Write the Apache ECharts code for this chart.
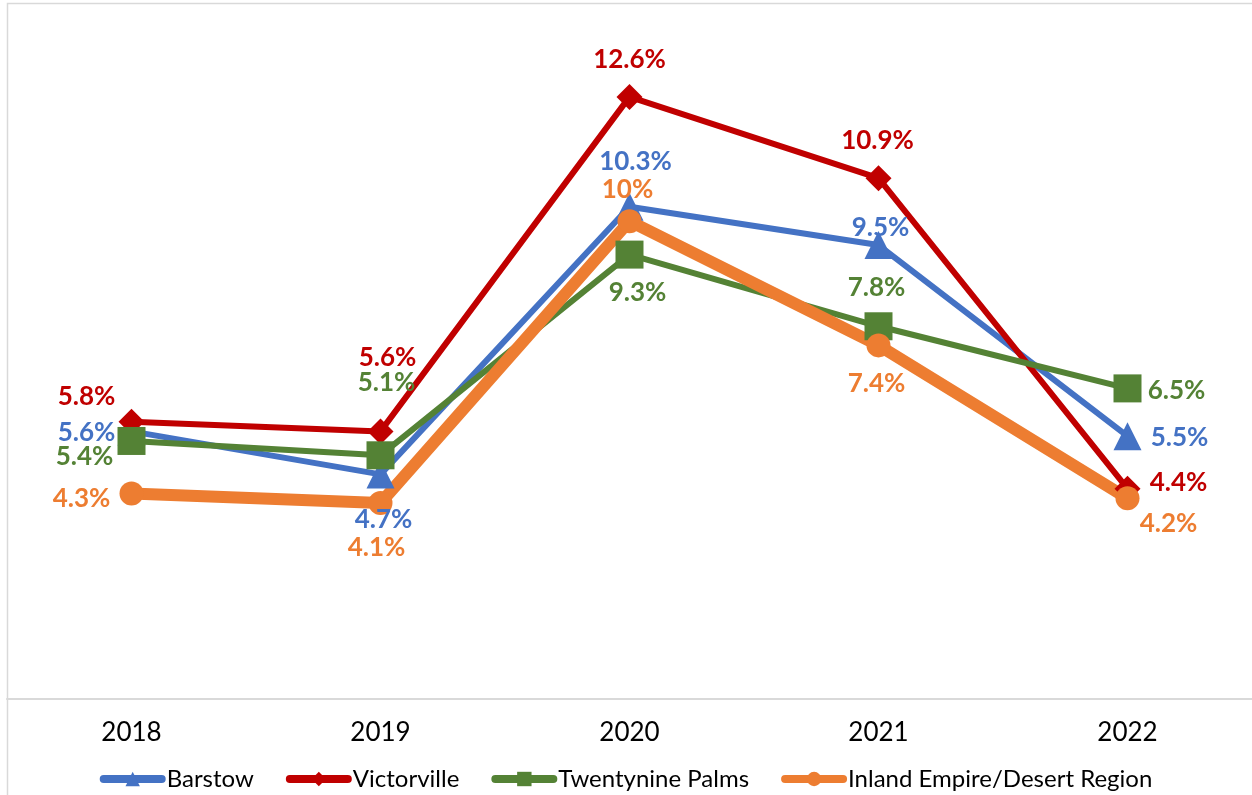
<!DOCTYPE html>
<html>
<head>
<meta charset="utf-8">
<style>
  html, body { margin: 0; padding: 0; background: #fff; }
  #chart { width: 1252px; height: 795px; }
</style>
<script src="https://cdn.jsdelivr.net/npm/echarts@6/dist/echarts.min.js"></script>
</head>
<body>
<div id="chart"></div>
<script>
const years = ['2018', '2019', '2020', '2021', '2022']
const barstow = [5.6, 4.7, 10.3, 9.5, 5.5]
const victorville = [5.8, 5.6, 12.6, 10.9, 4.4]
const twentynine = [5.4, 5.1, 9.3, 7.8, 6.5]
const inlandEmpire = [4.3, 4.1, 10.0, 7.4, 4.2]

// where each value label sits, relative to its point (x, y in px)
const barstowLabelOffsets = [[-45, 1], [3, 45], [6, -45], [2, -17], [52, 1]]
const victorvilleLabelOffsets = [[-45, -25], [7, -74], [0, -37], [-1, -38], [51, -6]]
const twentynineLabelOffsets = [[-47, 16], [6, -73], [8, 38], [-2, -39], [49, 2]]
const inlandLabelOffsets = [[-50, 5], [-4, 45], [-2, -32], [-2, 38], [41, 25]]

const font = 'Lato, "Noto Sans", sans-serif'

const colors = {
  barstow: '#4472C4',
  victorville: '#C00000',
  twentynine: '#548235',
  inland: '#ED7D31',
}

const makeSeries = (name, values, offsets, color, symbol, symbolSize, width) => ({
  name,
  type: 'line',
  data: values.map((v, i) => ({
    value: v,
    label: { offset: offsets[i] },
  })),
  symbol,
  symbolSize,
  showAllSymbol: true,
  itemStyle: { color },
  lineStyle: { color, width },
  label: {
    show: true,
    position: 'inside',
    align: 'center',
    verticalAlign: 'middle',
    color,
    fontFamily: font,
    fontWeight: 'bold',
    fontSize: 26,
    formatter: (p) => p.value + '%',
  },
  emphasis: { disabled: true },
  animation: false,
})

const legendItem = (name, color) => ({
  name,
  itemStyle: { color },
  lineStyle: { color, width: 8, cap: 'round' },
})

const chart = echarts.init(document.getElementById('chart'))

chart.setOption({
  animation: false,
  graphic: [
    {
      type: 'rect',
      shape: { x: 7.5, y: 3.5, width: 1260, height: 820 },
      style: { fill: 'none', stroke: '#d9d9d9', lineWidth: 1.5 },
      silent: true,
    },
  ],
  grid: {
    left: 7,
    width: 1249,
    top: 30,
    bottom: 96,
  },
  legend: {
    left: 'center',
    top: 762,
    itemWidth: 58,
    itemHeight: 18,
    itemGap: 32,
    textStyle: {
      color: '#000',
      fontFamily: font,
      fontSize: 24,
    },
    data: [
      legendItem('Barstow', colors.barstow),
      legendItem('Victorville', colors.victorville),
      legendItem('Twentynine Palms', colors.twentynine),
      legendItem('Inland Empire/Desert Region', colors.inland),
    ],
  },
  xAxis: {
    type: 'category',
    boundaryGap: true,
    data: years,
    axisLine: { lineStyle: { color: '#d9d9d9', width: 2 } },
    axisTick: { show: false },
    axisLabel: {
      color: '#000',
      fontFamily: font,
      fontSize: 26,
      margin: 21,
    },
  },
  yAxis: {
    type: 'value',
    min: 0,
    max: 14,
    show: false,
    splitLine: { show: false },
  },
  series: [
    makeSeries('Barstow', barstow, barstowLabelOffsets, colors.barstow, 'triangle', 28, 6),
    makeSeries('Victorville', victorville, victorvilleLabelOffsets, colors.victorville, 'diamond', 26, 6),
    makeSeries('Twentynine Palms', twentynine, twentynineLabelOffsets, colors.twentynine, 'rect', 28, 6),
    makeSeries('Inland Empire/Desert Region', inlandEmpire, inlandLabelOffsets, colors.inland, 'circle', 24, 12),
  ],
})
</script>
</body>
</html>
